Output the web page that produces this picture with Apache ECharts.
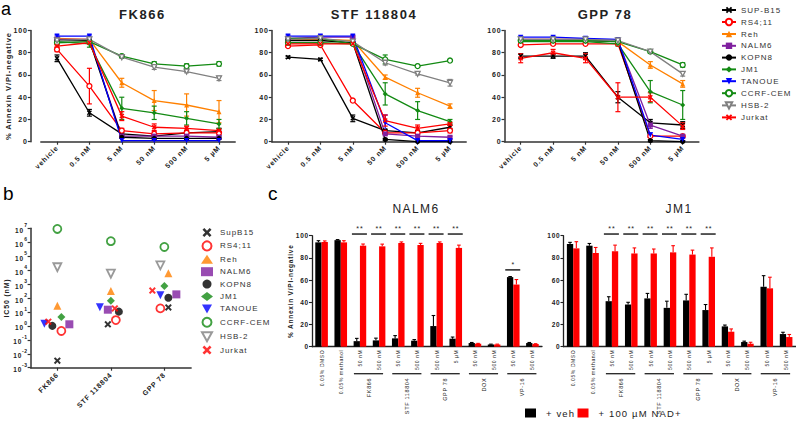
<!DOCTYPE html>
<html><head><meta charset="utf-8">
<script src="https://cdn.jsdelivr.net/npm/echarts@6/dist/echarts.min.js"></script>
<style>
html,body{margin:0;padding:0;background:#fff;}
.c{position:absolute;left:0;top:0;width:796px;height:431px;}
.c svg text{letter-spacing:0.12em;}
</style></head><body>
<div id="ca" class="c"></div><div id="cb" class="c"></div><div id="cc" class="c"></div>
<script>
// ---------- DATA ----------
const cellLines = ['SUP-B15','RS4;11','Reh','NALM6','KOPN8','JM1','TANOUE','CCRF-CEM','HSB-2','Jurkat'];
const concLabels = ['vehicle','0.5 nM','5 nM','50 nM','500 nM','5 µM'];
const drugNames = ['FK866','STF 118804','GPP 78'];

const fk866Mean = [[75,26,7,5,8,9],[83,50,10,7,8,8],[93,92,53,37,33,27],[92,92,5,5,5,4],[91,91,4,3,3,3],
  [90,88,30,26,21,16],[95,95,1,1,1,1],[89,90,77,70,68,70],[91,92,76,67,63,57],[86,89,23,13,12,10]];
const fk866Err = [[3,3,1,1,2,3],[2,16,2,2,1,1],[1,1,4,9,10,10],[1,1,1,1,1,1],[1,1,1,1,1,1],
  [2,3,10,6,6,4],[1,1,0,0,0,0],[1,1,1,2,2,2],[1,1,1,2,1,2],[1,1,4,3,2,1]];
const stfMean = [[76,74,21,10,8,13],[86,87,37,8,8,10],[92,92,91,58,44,32],[93,94,94,7,5,4],[91,91,89,2,0,0],
  [93,93,88,43,28,18],[95,95,95,17,1,1],[89,89,88,74,68,73],[92,93,90,71,61,53],[88,88,88,19,12,16]];
const stfErr = [[1,1,3,1,2,2],[1,1,1,1,1,2],[1,1,1,2,4,2],[1,1,1,1,1,1],[1,1,1,1,0,0],
  [1,1,1,10,8,2],[1,1,1,7,1,1],[1,1,1,4,1,1],[1,1,1,2,1,3],[1,1,1,5,3,1]];
const gppMean = [[77,77,77,40,17,15],[87,88,88,88,5,5],[92,92,92,90,69,52],[92,92,92,91,15,5],[91,91,91,90,1,0],
  [90,90,90,88,45,33],[94,94,93,92,6,2],[91,91,91,90,81,69],[92,92,92,91,81,61],[75,80,75,40,40,14]];
const gppErr = [[2,2,3,5,3,3],[1,1,1,1,1,1],[1,1,1,1,3,3],[1,1,1,1,3,1],[1,1,1,1,1,1],
  [1,1,1,2,10,13],[1,1,1,1,2,1],[1,1,1,1,1,2],[1,1,1,1,1,2],[4,3,4,13,4,3]];

const cellLinesB = ['SupB15','RS4;11','Reh','NALM6','KOPN8','JM1','TANOUE','CCRF-CEM','HSB-2','Jurkat'];
const ic50Drugs = ['FK866','STF 118804','GPP 78'];
const ic50nM = [[0.0032,1.3,21],[0.43,2.6,18],[28,316,5900],[1.3,14.5,182],[1.0,10.5,105],
  [4.4,64,720],[1.45,22,155],[9e6,1.2e6,4.6e5],[1.6e4,5600,2.2e4],[2.0,18,340]];
const ic50Decades = [-3,7];

const treatments = ['0.05% DMSO','0.05% methanol','50 nM','500 nM','50 nM','500 nM','500 nM','5 µM','50 nM','500 nM','50 nM','500 nM'];
const drugGroups = ['FK866','STF 118804','GPP 78','DOX','VP-16'];
const groupStart = [2,4,6,8,10];
const groupEnd = [3,5,7,9,11];
const nalm6Veh = [94,96,5,5.7,7.5,5.4,18.6,7.2,3.3,2,62.7,3.3];
const nalm6VehErr = [1.5,0.5,2.5,2,2.5,1,9.5,1.5,0.5,0.3,0.5,0.5];
const nalm6Nad = [94.3,94,91,90.4,93.4,91.6,93.4,89,2.7,2,56,2.4];
const nalm6NadErr = [1,1.5,1.5,2,1,1.5,1,2.5,0.3,0.3,4.5,0.3];
const nalm6Sig = ['','','**','**','**','**','**','**','','','*',''];
const jm1Veh = [92.5,91,41,38,43.5,35,41.7,33,18.3,4.2,54,11.4];
const jm1VehErr = [1.5,2,4,2,4.5,6,5.5,5,1.2,0.8,10,1.6];
const jm1Nad = [88.6,84.4,86,84,84,85,83,81,13.5,2.7,52.6,8.7];
const jm1NadErr = [6,5,5.5,5,4,6,4,8,2.5,1.3,10,2.3];
const jm1Sig = ['','','**','**','**','**','**','**','','','',''];
const barLegend = ['+ veh','+ 100 µM NAD+'];

// ---------- STYLE ----------
const FONT = 'Liberation Sans, Arial, sans-serif';
const TXT = '#222';
const XP = 'path://M2,0L5,3L8,0L10,2L7,5L10,8L8,10L5,7L2,10L0,8L3,5L0,2Z';
const DTRI = 'path://M0,0L10,0L5,9Z';
const lineColors = ['#000000','#FF0000','#FF8000','#7F1F9F','#000000','#138A13','#0000FF','#138A13','#808080','#FF0000'];
const lineSymbols = [XP,'circle','triangle','rect','circle','diamond',DTRI,'circle',DTRI,XP];
const hollow = [false,true,false,false,false,false,false,true,true,false];
const jitter = [[0,-3,4],[4,5,-4],[0,0,4],[12,-3,12],[-5,8,4],[4,0,0],[-13,-11,-4],[0,0,0],[0,0,-4],[-9,4,-12]];
const axisLineSt = {show:true, onZero:false, lineStyle:{color:'#333', width:1.5}};
const tickSt = {show:true, length:3, lineStyle:{color:'#333', width:1.2}};
function symItemStyle(i, bw){
  return {color: hollow[i] ? '#fff' : lineColors[i], borderColor: lineColors[i], borderWidth: hollow[i] ? bw : 0};
}

// ---------- PANEL A ----------
const gridsA = [{left:40.8,top:30.5,width:194.4,height:111.2},{left:271.8,top:30.5,width:194.4,height:111.2},{left:504.5,top:30.5,width:194.4,height:111.2}];
const titleX = [137.5,369,600];
const meansA = [fk866Mean, stfMean, gppMean];
const errsA = [fk866Err, stfErr, gppErr];

function errRender(params, api){
  const j=api.value(0), m=api.value(1), e=api.value(2), i=api.value(3);
  if(!(e>0)) return;
  const t=api.coord([j,m+e]), b=api.coord([j,Math.max(0,m-e)]);
  const st={stroke:lineColors[i], lineWidth:1.2};
  return {type:'group', children:[
    {type:'line', shape:{x1:t[0],y1:t[1],x2:b[0],y2:b[1]}, style:st},
    {type:'line', shape:{x1:t[0]-2.5,y1:t[1],x2:t[0]+2.5,y2:t[1]}, style:st},
    {type:'line', shape:{x1:b[0]-2.5,y1:b[1],x2:b[0]+2.5,y2:b[1]}, style:st}]};
}

const seriesA = [];
for(let p=0;p<3;p++){
  const ed=[];
  cellLines.forEach((n,i)=>{
    concLabels.forEach((c,j)=>ed.push([j, meansA[p][i][j], errsA[p][i][j], i]));
  });
  seriesA.push({type:'custom', xAxisIndex:p, yAxisIndex:p, renderItem:errRender, data:ed, encode:{x:0,y:1}, z:1, silent:true});
  cellLines.forEach((n,i)=>{
    seriesA.push({type:'line', name:n, xAxisIndex:p, yAxisIndex:p, data:meansA[p][i], symbol:lineSymbols[i],
      symbolSize:5, z:2,
      lineStyle:{color:lineColors[i], width:1.3}, itemStyle:symItemStyle(i,1.3),
      animation:false});
  });
}
const optA = {
  animation:false,
  textStyle:{fontFamily:FONT},
  title: drugNames.map((d,p)=>({text:d, left:titleX[p], top:3, textAlign:'center',
    textStyle:{fontSize:13, fontWeight:'bold', color:TXT, fontFamily:FONT}})),
  grid: gridsA,
  xAxis: gridsA.map((g,p)=>({type:'category', gridIndex:p, data:concLabels, boundaryGap:true,
    axisLine:axisLineSt, axisTick:Object.assign({alignWithLabel:true}, tickSt),
    axisLabel:{rotate:45, fontSize:7, fontWeight:'bold', color:TXT, margin:5, interval:0, fontFamily:FONT}})),
  yAxis: gridsA.map((g,p)=>({type:'value', gridIndex:p, min:0, max:100, interval:20, offset:p===0?10:0,
    splitLine:{show:false}, axisLine:axisLineSt, axisTick:tickSt,
    axisLabel:{fontSize:7, fontWeight:'bold', color:TXT, margin:3, fontFamily:FONT},
    name:p===0?'% Annexin V/PI-negative':'', nameLocation:'middle', nameGap:18,
    nameTextStyle:{fontSize:7.5, fontWeight:'bold', color:TXT, fontFamily:FONT}})),
  legend:{data:cellLines, orient:'vertical', left:716, top:1, itemWidth:14, itemHeight:8, itemGap:3.8,
    textStyle:{fontSize:8, color:'#333', fontFamily:FONT}},
  graphic:[{type:'text', left:1, top:0, style:{text:'a', fontSize:18, fill:'#000', fontFamily:FONT}}],
  series: seriesA
};
const ca = echarts.init(document.getElementById('ca'), null, {renderer:'svg'});
ca.setOption(optA);

// ---------- PANEL B ----------
const seriesB = cellLinesB.map((n,i)=>({
  type:'scatter', name:n, symbol:lineSymbols[i],
  symbolSize: (lineSymbols[i]===XP)?7:8,
  itemStyle:symItemStyle(i,1.8),
  data: ic50Drugs.map((d,j)=>({value:[d, Math.log10(ic50nM[i][j])], symbolOffset:[jitter[i][j],0]}))
}));
const optB = {
  animation:false,
  textStyle:{fontFamily:FONT},
  grid:{left:30.6, top:228.3, width:160.5, height:139.4},
  xAxis:{type:'category', data:ic50Drugs, axisLine:axisLineSt, axisTick:Object.assign({alignWithLabel:true}, tickSt),
    axisLabel:{rotate:45, fontSize:7, fontWeight:'bold', color:TXT, margin:6, interval:0, fontFamily:FONT}},
  yAxis:{type:'value', min:ic50Decades[0], max:ic50Decades[1], interval:1, splitLine:{show:false},
    axisLine:axisLineSt, axisTick:tickSt,
    name:'IC50 (nM)', nameLocation:'middle', nameGap:21,
    nameTextStyle:{fontSize:7, fontWeight:'bold', color:TXT, fontFamily:FONT},
    axisLabel:{margin:3, formatter:v=>'{b|10}{s|'+Math.round(v)+'}',
      rich:{b:{fontSize:6.5, fontWeight:'bold', color:TXT, fontFamily:FONT, verticalAlign:'bottom', lineHeight:11, padding:[0,1,0,0]},
            s:{fontSize:5, fontWeight:'bold', color:TXT, fontFamily:FONT, verticalAlign:'top', lineHeight:11}}}},
  legend:{data:cellLinesB, orient:'vertical', left:196, top:223, itemWidth:12, itemHeight:9, itemGap:3.4,
    textStyle:{fontSize:8, color:'#333', fontFamily:FONT, padding:[0,0,0,2]}},
  graphic:[{type:'text', left:3, top:184, style:{text:'b', fontSize:19, fill:'#000', fontFamily:FONT}},
           {type:'text', left:268, top:184, style:{text:'c', fontSize:19, fill:'#000', fontFamily:FONT}}],
  series: seriesB
};
const cb = echarts.init(document.getElementById('cb'), null, {renderer:'svg'});
cb.setOption(optB);

// ---------- PANEL C ----------
const gridsC = [{left:312, top:235.7, width:230, height:111},{left:563.5, top:235.7, width:232.3, height:111}];
const cTitles = ['NALM6','JM1'];
const cTitleX = [411,674];
const vehC = [nalm6Veh, jm1Veh], vehErrC=[nalm6VehErr, jm1VehErr];
const nadC = [nalm6Nad, jm1Nad], nadErrC=[nalm6NadErr, jm1NadErr];
const sigC = [nalm6Sig, jm1Sig];
const BW = 6.3;
const barColors = ['#000000','#FF0000'];

function barErrRender(params, api){
  const j=api.value(0), top=api.value(1), e=api.value(2), w=api.value(3);
  const c=api.coord([j,top]), c2=api.coord([j,top+e]);
  const x = c[0] + (w===0?-BW/2:BW/2);
  const st={stroke:barColors[w], lineWidth:1.1};
  return {type:'group', children:[
    {type:'line', shape:{x1:x,y1:c[1],x2:x,y2:c2[1]}, style:st},
    {type:'line', shape:{x1:x-1.8,y1:c2[1],x2:x+1.8,y2:c2[1]}, style:st}]};
}
function sigRender(params, api){
  const j=api.value(0), lvl=api.value(1), n=api.value(2);
  const c=api.coord([j,lvl]);
  return {type:'group', children:[
    {type:'line', shape:{x1:c[0]-8,y1:c[1],x2:c[0]+7,y2:c[1]}, style:{stroke:'#222', lineWidth:1.5}},
    {type:'text', x:c[0], y:c[1]-2, style:{text:'*'.repeat(n), align:'center', verticalAlign:'bottom', fontSize:7, fill:'#222', fontFamily:FONT}}]};
}
function groupRender(params, api){
  const s=api.value(0), e=api.value(2), g=api.value(3);
  const a=api.coord([s,0]), b=api.coord([e,0]);
  const y=a[1]+27;
  return {type:'group', children:[
    {type:'line', shape:{x1:a[0]-6,y1:y,x2:b[0]+4,y2:y}, style:{stroke:'#222', lineWidth:1.3}},
    {type:'text', x:(a[0]+b[0])/2-1, y:y+4, rotation:Math.PI/2,
      style:{text:drugGroups[g], align:'right', verticalAlign:'middle', fontSize:5.5, fill:TXT, fontFamily:FONT}}]};
}

const seriesC=[];
for(let p=0;p<2;p++){
  seriesC.push({type:'bar', name:barLegend[0], xAxisIndex:p, yAxisIndex:p, data:vehC[p], barWidth:BW, barGap:'0%', itemStyle:{color:barColors[0]}});
  seriesC.push({type:'bar', name:barLegend[1], xAxisIndex:p, yAxisIndex:p, data:nadC[p], barWidth:BW, barGap:'0%', itemStyle:{color:barColors[1]}});
  const ed=[];
  treatments.forEach((t,j)=>{ ed.push([j,vehC[p][j],vehErrC[p][j],0]); ed.push([j,nadC[p][j],nadErrC[p][j],1]); });
  seriesC.push({type:'custom', xAxisIndex:p, yAxisIndex:p, renderItem:barErrRender, data:ed, encode:{x:0,y:1}, z:3, silent:true});
  const sd=[];
  sigC[p].forEach((s,j)=>{ if(s){ const mt=Math.max(vehC[p][j]+vehErrC[p][j], nadC[p][j]+nadErrC[p][j]);
    sd.push([j, mt>80?101.5:mt+6, s.length]); } });
  seriesC.push({type:'custom', xAxisIndex:p, yAxisIndex:p, renderItem:sigRender, data:sd, encode:{x:0,y:1}, z:3, silent:true, clip:false});
  const gd=drugGroups.map((g,k)=>[groupStart[k],0,groupEnd[k],k]);
  seriesC.push({type:'custom', xAxisIndex:p, yAxisIndex:p, renderItem:groupRender, data:gd, encode:{x:0,y:1}, z:3, silent:true, clip:false});
}
const optC = {
  animation:false,
  textStyle:{fontFamily:FONT},
  title: cTitles.map((t,p)=>({text:t, left:cTitleX[p], top:198, textAlign:'center',
    textStyle:{fontSize:12, fontWeight:'normal', color:TXT, fontFamily:FONT}})),
  grid: gridsC,
  xAxis: gridsC.map((g,p)=>({type:'category', gridIndex:p, data:treatments, boundaryGap:true,
    axisLine:{show:true, lineStyle:{color:'#222', width:1.3}}, axisTick:{show:false},
    axisLabel:{rotate:90, fontSize:5, color:TXT, margin:3, interval:0, fontFamily:FONT}})),
  yAxis: gridsC.map((g,p)=>({type:'value', gridIndex:p, min:0, max:100, interval:20,
    splitLine:{show:false}, axisLine:{show:true, lineStyle:{color:'#222', width:1.3}},
    axisTick:{show:true, length:3, lineStyle:{color:'#222', width:1.1}},
    axisLabel:{fontSize:6.5, fontWeight:'bold', color:TXT, margin:3, fontFamily:FONT},
    name:p===0?'% Annexin V/PI-negative':'', nameLocation:'middle', nameGap:16,
    nameTextStyle:{fontSize:6.5, fontWeight:'bold', color:TXT, fontFamily:FONT}})),
  legend:{data:barLegend, orient:'vertical', left:520, top:403, itemWidth:11, itemHeight:9, itemGap:8,
    icon:'rect', textStyle:{fontSize:9.5, color:'#222', fontFamily:FONT, padding:[0,0,0,5]}},
  series: seriesC
};
const cc = echarts.init(document.getElementById('cc'), null, {renderer:'svg'});
cc.setOption(optC);
</script>
</body></html>
